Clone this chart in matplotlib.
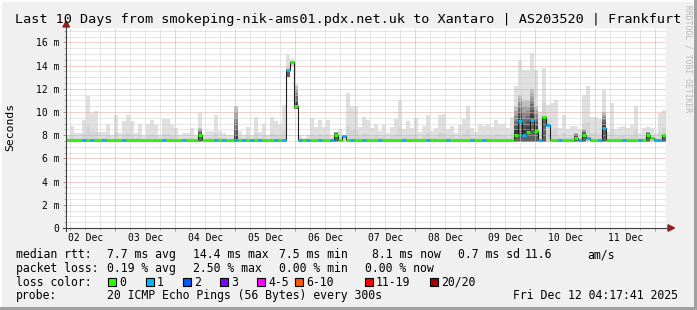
import numpy as np
import matplotlib
matplotlib.use('Agg')
import matplotlib.pyplot as plt
from matplotlib.patches import Rectangle, Polygon
from matplotlib.lines import Line2D

W, H = 697, 310
MONO = 'DejaVu Sans Mono'

# 150 bins of 96 minutes, starting Tue Dec 02 04:17:41
bin_hours = 1.6
first_midnight = 19.705  # hours from start to Dec 03 00:00
day_labels = ['02 Dec', '03 Dec', '04 Dec', '05 Dec', '06 Dec',
              '07 Dec', '08 Dec', '09 Dec', '10 Dec', '11 Dec']

# median rtt per bin (ms), one row per 24h
median_ms = [
    7.55, 7.55, 7.55, 7.55, 7.55, 7.55, 7.55, 7.55, 7.55, 7.55, 7.55, 7.55, 7.55, 7.55, 7.55,
    7.55, 7.55, 7.55, 7.55, 7.55, 7.55, 7.55, 7.55, 7.55, 7.55, 7.55, 7.55, 7.55, 7.55, 7.55,
    7.55, 7.55, 7.55, 8.0, 7.55, 7.55, 7.55, 7.55, 7.55, 7.55, 7.55, 7.55, 7.55, 7.55, 7.55,
    7.55, 7.55, 7.55, 7.55, 7.55, 7.55, 7.55, 7.55, 7.55, 7.55, 13.6, 14.3, 10.5, 7.55, 7.55,
    7.55, 7.55, 7.55, 7.55, 7.55, 7.55, 7.55, 8.0, 7.55, 7.9, 7.55, 7.55, 7.55, 7.55, 7.55,
    7.55, 7.55, 7.55, 7.55, 7.55, 7.55, 7.55, 7.55, 7.55, 7.55, 7.55, 7.55, 7.55, 7.55, 7.55,
    7.55, 7.55, 7.55, 7.55, 7.55, 7.55, 7.55, 7.55, 7.55, 7.55, 7.55, 7.55, 7.55, 7.55, 7.55,
    7.55, 7.55, 7.55, 7.55, 7.55, 7.55, 7.55, 8.0, 9.2, 8.0, 8.3, 9.3, 8.4, 7.55, 9.6,
    8.9, 7.55, 7.55, 7.55, 7.55, 7.55, 7.55, 7.8, 7.55, 8.0, 7.8, 7.55, 7.55, 7.55, 8.6,
    7.55, 7.55, 7.55, 7.55, 7.55, 7.55, 7.55, 7.55, 7.55, 7.55, 8.0, 7.8, 7.55, 7.55, 8.0,
]

# top of the smoke (slowest ping) per bin (ms)
smoke_max_ms = [
    8.0, 8.8, 8.2, 8.2, 9.3, 11.4, 9.9, 10.1, 8.3, 8.3, 9.0, 8.0, 9.7, 8.2, 9.2,
    9.7, 9.2, 8.2, 9.0, 7.9, 9.0, 9.3, 8.9, 8.0, 9.4, 9.4, 8.9, 8.6, 8.0, 8.2,
    8.2, 8.6, 8.0, 9.9, 8.0, 8.4, 8.4, 9.7, 8.4, 8.2, 8.0, 8.0, 10.5, 8.4, 8.0,
    8.7, 8.0, 9.6, 8.3, 9.0, 8.0, 9.6, 9.2, 9.0, 10.6, 14.9, 14.6, 12.4, 8.0, 7.8,
    8.0, 9.5, 8.7, 9.3, 8.7, 9.3, 8.0, 8.0, 8.5, 8.0, 11.6, 10.5, 10.5, 8.7, 9.6,
    9.3, 8.6, 9.0, 8.4, 8.9, 8.2, 8.7, 9.4, 11.0, 8.5, 9.2, 8.6, 9.5, 8.3, 8.8,
    9.7, 8.4, 8.6, 9.7, 9.8, 8.5, 8.8, 8.2, 8.9, 9.4, 10.5, 8.6, 8.3, 9.0, 8.8,
    9.0, 8.7, 9.3, 9.0, 9.0, 8.6, 9.6, 12.2, 14.5, 13.6, 13.6, 15.1, 13.6, 10.0, 13.8,
    10.6, 10.8, 11.0, 8.6, 9.7, 8.5, 8.8, 8.8, 8.5, 11.5, 12.2, 9.6, 9.6, 9.4, 11.9,
    8.3, 10.8, 8.5, 8.7, 8.8, 8.6, 8.9, 10.5, 8.2, 8.6, 8.7, 8.6, 8.2, 9.9, 10.2,
]

# lost pings (of 20) per bin
loss_pings = [
    0, 0, 0, 0, 1, 0, 1, 0, 0, 1, 0, 0, 0, 0, 1,
    0, 0, 0, 0, 0, 0, 0, 0, 0, 1, 0, 0, 0, 0, 1,
    0, 0, 0, 0, 0, 0, 0, 1, 0, 1, 0, 0, 1, 0, 1,
    0, 1, 0, 1, 0, 0, 0, 1, 0, 1, 1, 0, 0, 1, 0,
    1, 0, 0, 1, 0, 0, 1, 0, 0, 1, 0, 1, 0, 0, 1,
    0, 0, 0, 1, 0, 0, 0, 0, 0, 1, 0, 0, 0, 0, 0,
    1, 0, 0, 0, 0, 1, 0, 0, 0, 0, 0, 1, 0, 0, 1,
    0, 0, 0, 0, 0, 0, 0, 0, 1, 1, 0, 1, 0, 1, 0,
    1, 0, 0, 1, 0, 0, 0, 0, 1, 0, 1, 0, 0, 1, 1,
    0, 0, 0, 0, 1, 0, 0, 0, 1, 0, 0, 0, 1, 1, 0,
]

# bins with dense (dark) smoke: upper edge of the dark part
smoke_dark_top = {33: 8.6, 42: 10.5, 55: 13.6, 57: 12.2, 67: 8.3, 112: 10.5,
                  113: 11.5, 114: 11.0, 115: 11.0, 116: 12.0, 117: 10.5,
                  119: 9.6, 127: 8.2, 129: 8.5, 134: 10.0, 145: 8.3, 149: 8.0}
# bins where the fastest ping is well above the usual floor
smoke_bottom = {55: 13.0, 56: 14.0, 57: 10.3}
smoke_floor = 7.45

loss_labels = ['0', '1', '2', '3', '4-5', '6-10', '11-19', '20/20']
loss_colors = ['#26ff00', '#00b8ff', '#0059ff', '#7e00ff',
               '#ff00ff', '#ff5500', '#ff0000', '#a10000']


def loss_color(n):
    if n == 0:
        return loss_colors[0]
    if n <= 3:
        return loss_colors[n]
    if n <= 5:
        return loss_colors[4]
    if n <= 10:
        return loss_colors[5]
    if n <= 19:
        return loss_colors[6]
    return loss_colors[7]


def fx(x):
    return x / W


def fy(y):
    return 1 - y / H


fig = plt.figure(figsize=(W / 100, H / 100), dpi=100, facecolor='#F0F0F0')
ax = fig.add_axes([fx(66), fy(228), 600 / W, 200 / H])
ax.set_facecolor('white')
for s in ax.spines.values():
    s.set_visible(False)

n = len(median_ms)
med = np.array(median_ms)
top = np.array(smoke_max_ms)
edges = np.arange(n + 1) * bin_hours

# smoke
for i in range(n):
    x0 = edges[i]
    lo = smoke_bottom.get(i, smoke_floor)
    ax.bar(x0, top[i] - lo, bottom=lo, width=bin_hours, align='edge',
           color='#E0E0E0', lw=0, zorder=1)
    mid = med[i] + 0.3 * (top[i] - med[i])
    ax.bar(x0, mid - lo, bottom=lo, width=bin_hours, align='edge',
           color='#D4D4D4', lw=0, zorder=1.1)
    if i in smoke_dark_top:
        d = smoke_dark_top[i]
        ax.bar(x0, med[i] - lo, bottom=lo, width=bin_hours, align='edge',
               color='0.38', lw=0, zorder=1.2)
        bands = np.linspace(med[i], d, 7)
        shades = np.linspace(0.22, 0.75, 6)
        for b0, b1, g in zip(bands[:-1], bands[1:], shades):
            ax.bar(x0, b1 - b0, bottom=b0, width=bin_hours, align='edge',
                   color=str(g), lw=0, zorder=1.2)

# median line
ax.step(edges, list(med) + [med[-1]], where='post', color='#202020',
        lw=0.8, zorder=3)
ax.hlines(med, edges[:-1], edges[1:], colors=[loss_color(v) for v in loss_pings],
          lw=2.2, zorder=4, capstyle='butt')

ax.set_xlim(0, n * bin_hours)
ax.set_ylim(0, 200 / 11.6)

# grid
majors_x = first_midnight + 24 * np.arange(10)
minors_x = (first_midnight - 18) + 6 * np.arange(40)
ax.set_xticks(majors_x)
ax.set_xticks(minors_x, minor=True)
ax.set_yticks(np.arange(0, 17, 2))
ax.set_yticks(np.arange(0, 17.3, 0.5), minor=True)
ax.set_yticklabels(['0'] + ['%d m' % v for v in range(2, 17, 2)],
                   fontfamily=MONO, fontsize=7)
ax.set_axisbelow(False)
ax.grid(which='minor', color='#CFCFCF', lw=0.72, ls=(0, (1, 1)))
ax.grid(which='major', color='#E7A3A3', lw=0.72, ls=(0, (1, 1)))
ax.tick_params(which='major', direction='out', length=2.5, width=0.7,
               color='#D08080', pad=2)
ax.tick_params(which='minor', direction='out', length=1.6, width=0.7,
               color='#AAAAAA')
ax.tick_params(axis='x', labelbottom=False)

# day labels at noon
for k, lab in enumerate(day_labels):
    ax.text(majors_x[k] - 12, -13 / 200, lab, transform=ax.get_xaxis_transform(),
            ha='center', va='baseline', fontfamily=MONO, fontsize=7)

# axis lines with arrows
fig.add_artist(Line2D([fx(66), fx(66)], [fy(231), fy(25)], color='#404040',
                      lw=0.8, transform=fig.transFigure))
fig.add_artist(Line2D([fx(63), fx(669)], [fy(228), fy(228)], color='#404040',
                      lw=0.8, transform=fig.transFigure))
fig.add_artist(Polygon([[fx(63), fy(27)], [fx(69.5), fy(27)], [fx(66.2), fy(21)]],
                       closed=True, color='#9E1A1A', transform=fig.transFigure))
fig.add_artist(Polygon([[fx(668), fy(224.8)], [fx(668), fy(231.2)], [fx(674.5), fy(228)]],
                       closed=True, color='#9E1A1A', transform=fig.transFigure))

# title and labels
fig.text(fx(348), fy(23.5), 'Last 10 Days from smokeping-nik-ams01.pdx.net.uk to Xantaro | AS203520 | Frankfurt',
         ha='center', va='baseline', fontfamily=MONO, fontsize=9.7)
fig.text(fx(10), fy(127), 'Seconds', rotation=90, ha='center', va='center',
         fontfamily=MONO, fontsize=8.2)
fig.text(fx(688), fy(5), 'RRDTOOL / TOBI OETIKER', rotation=270, ha='center', va='top',
         fontfamily=MONO, fontsize=5.8, color='#B8B8B8')

# legend
lg = dict(fontfamily=MONO, fontsize=8.3, va='baseline', ha='left')
row1 = [(16, 'median rtt:'), (107, '7.7 ms avg'), (193, '14.4 ms max'),
        (279, '7.5 ms min'), (372, '8.1 ms now'), (458, '0.7 ms sd'),
        (525, '11.6'), (587, 'am/s')]
row2 = [(16, 'packet loss:'), (107, '0.19 % avg'), (193, '2.50 % max'),
        (279, '0.00 % min'), (365, '0.00 % now')]
for x, t in row1:
    fig.text(fx(x), fy(258), t, **lg)
for x, t in row2:
    fig.text(fx(x), fy(271.7), t, **lg)
fig.text(fx(16), fy(285.5), 'loss color:', **lg)
sq_x = [108, 146, 183, 220, 257, 295, 365, 430]
for x, lab, c in zip(sq_x, loss_labels, loss_colors):
    fig.add_artist(Rectangle((fx(x), fy(286)), 8 / W, 8 / H, facecolor=c,
                             edgecolor='black', lw=0.8, transform=fig.transFigure))
    fig.text(fx(x + 11), fy(285.5), lab, **lg)
fig.text(fx(16), fy(299), 'probe:', **lg)
fig.text(fx(107), fy(299), '20 ICMP Echo Pings (56 Bytes) every 300s', **lg)
fig.text(fx(513), fy(299), 'Fri Dec 12 04:17:41 2025', **lg)

# 3d frame
fig.add_artist(Rectangle((0, fy(2)), 1, 2 / H, color='#FCFCFC', lw=0, transform=fig.transFigure))
fig.add_artist(Rectangle((0, 0), 2 / W, 1, color='#FCFCFC', lw=0, transform=fig.transFigure))
fig.add_artist(Rectangle((fx(694), 0), 3 / W, 1, color='#A0A0A0', lw=0, transform=fig.transFigure))
fig.add_artist(Rectangle((0, 0), 1, 3 / H, color='#A0A0A0', lw=0, transform=fig.transFigure))

fig.savefig('out.png', dpi=100, facecolor=fig.get_facecolor())
